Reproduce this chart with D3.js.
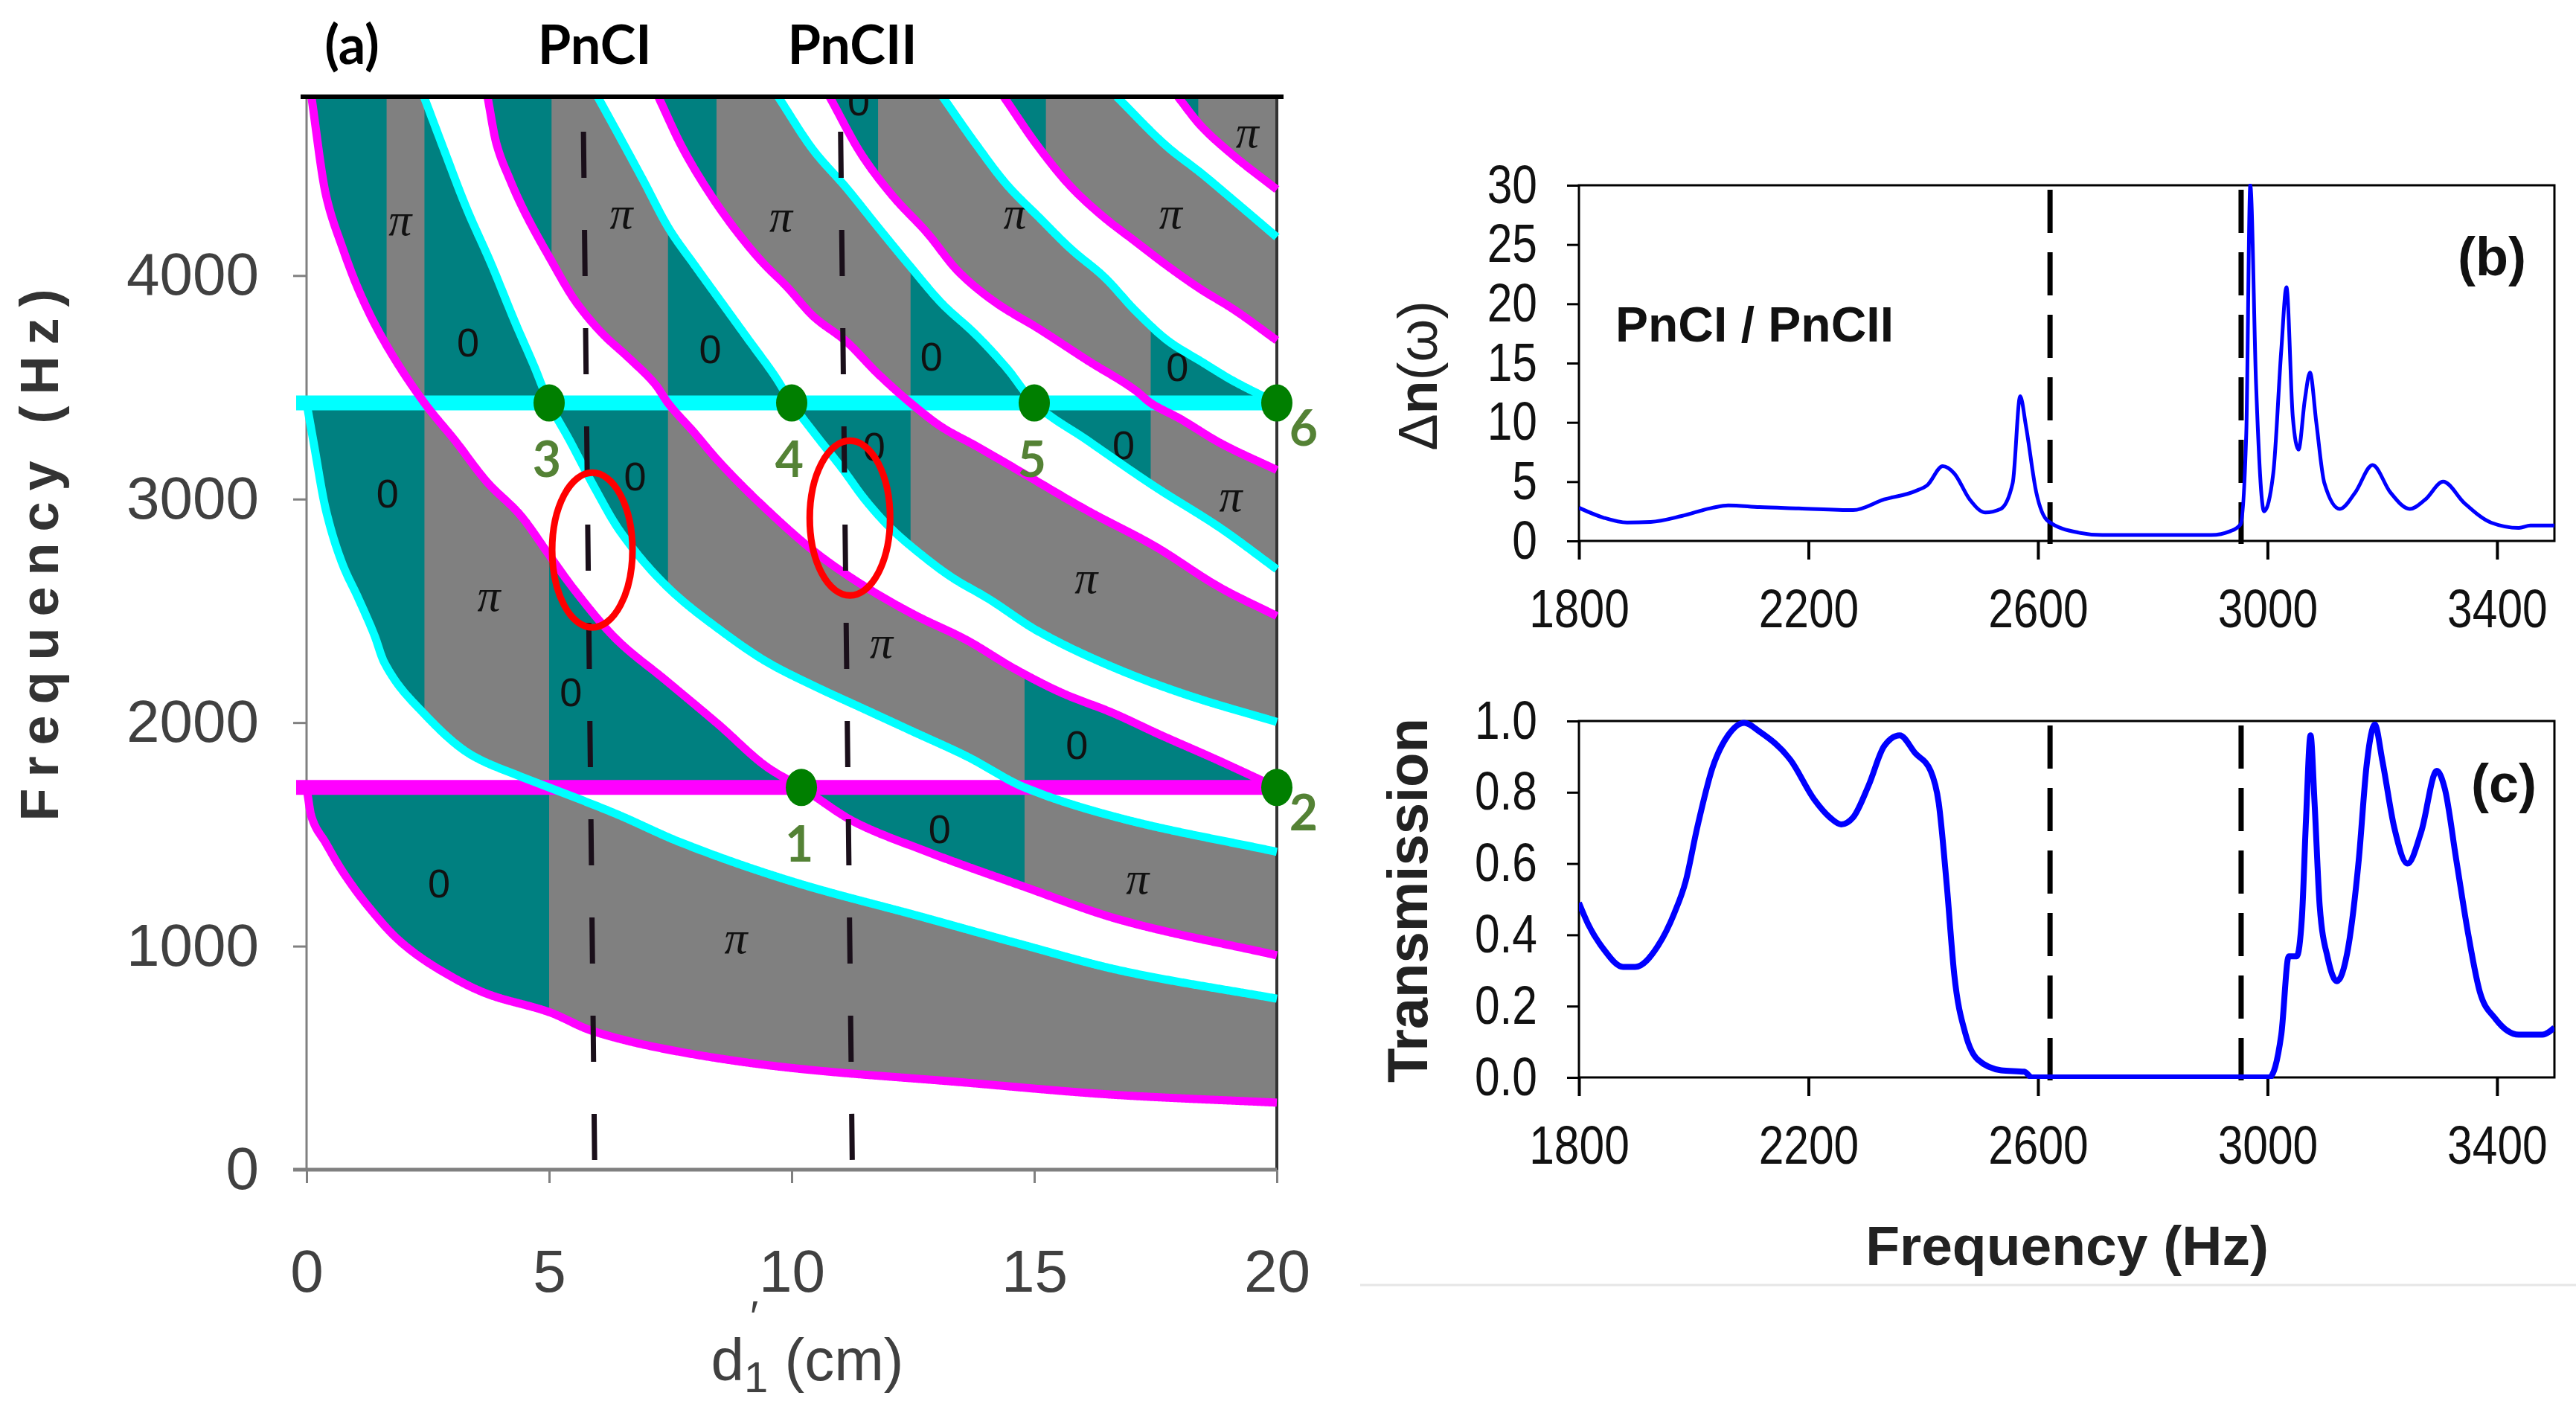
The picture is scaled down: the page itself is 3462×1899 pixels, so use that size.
<!DOCTYPE html>
<html>
<head>
<meta charset="utf-8">
<script src="https://cdn.jsdelivr.net/npm/d3@7"></script>
<style>
  html, body { margin: 0; padding: 0; background: #fff; }
  svg { display: block; }
</style>
</head>
<body>
<svg id="fig"></svg>
<script>
// ---------- data: panel (a), band edges vs d'1 (cm) and frequency (Hz) ----------
const flatLevels = [1710, 3430];           // flat band edges (magenta, cyan)

const magentaCurves = [
  [[0,1710],[0.1,1580],[0.4,1460],[0.74,1335],[1.27,1178],[1.93,1021],[2.73,896],[3.73,786],[5,705],[5.9,620],[7.7,527],[10,455],[13.4,393],[16.8,333],[20,300]],
  [[0.1,4800],[0.4,4360],[0.74,4125],[1.07,3937],[1.53,3733],[2.43,3430],[3.06,3262],[3.73,3074],[4.4,2930],[5,2750],[5.5,2600],[6.4,2370],[7.4,2190],[8.5,1990],[9.5,1800],[10.2,1710],[11.3,1555],[12.7,1430],[14.7,1273],[16.8,1116],[20,959]],
  [[3.73,4800],[3.91,4593],[4.19,4430],[4.46,4300],[5.01,4080],[5.56,3880],[6.1,3740],[6.65,3630],[7.2,3510],[7.45,3430],[7.98,3300],[8.49,3170],[9.5,2950],[10.5,2760],[11.5,2610],[12.55,2480],[13.6,2370],[14.6,2240],[15.6,2130],[16.6,2045],[17.6,1945],[18.7,1840],[20,1710]],
  [[7.25,4800],[7.75,4571],[8.3,4371],[8.84,4205],[9.39,4061],[9.9,3950],[10.45,3817],[11.12,3706],[11.78,3560],[12.45,3430],[13.11,3320],[13.78,3240],[14.73,3121],[16.1,2948],[17.47,2791],[18.84,2603],[20,2477]],
  [[10.78,4800],[11.45,4538],[12.11,4349],[12.78,4194],[13.44,4017],[14.2,3880],[15.1,3761],[16.1,3620],[17.1,3484],[17.4,3430],[18,3360],[18.84,3250],[20,3130]],
  [[14.37,4800],[15.1,4571],[15.77,4394],[16.44,4260],[17.1,4150],[17.77,4039],[18.43,3939],[19.1,3850],[20,3710]],
  [[17.96,4800],[18.43,4671],[19.1,4538],[20,4385]]
];

const cyanCurves = [
  [[0,3430],[0.14,3260],[0.4,2950],[0.74,2710],[1.07,2555],[1.4,2390],[1.6,2270],[2.4,2045],[3.4,1855],[4.4,1760],[5,1710],[6.4,1590],[7.7,1465],[10,1290],[12.7,1130],[14.7,1010],[16.8,890],[20,765]],
  [[2.42,4800],[2.82,4570],[3.3,4300],[3.8,4055],[4.3,3790],[4.7,3590],[5,3430],[5.43,3260],[5.94,3050],[6.45,2860],[7.47,2600],[8.49,2420],[9.5,2270],[10.5,2160],[11.5,2060],[12.5,1960],[13.6,1850],[14.8,1710],[16.8,1571],[20,1422]],
  [[6.0,4800],[6.38,4650],[6.93,4430],[7.47,4210],[8.02,4040],[8.57,3875],[9.12,3710],[9.67,3545],[10,3430],[10.52,3280],[11.03,3140],[11.54,2990],[12.04,2870],[12.68,2750],[13.3,2650],[14.05,2555],[15.07,2410],[16.8,2232],[18.2,2120],[20,2003]],
  [[9.72,4800],[10.45,4560],[11.12,4394],[11.78,4216],[12.45,4039],[13.11,3872],[13.78,3739],[14.44,3584],[15,3430],[16.1,3262],[17.47,3058],[18.84,2870],[20,2686]],
  [[13.11,4800],[13.78,4593],[14.44,4405],[15.1,4260],[15.77,4116],[16.44,3994],[17.1,3839],[17.77,3706],[18.43,3617],[19.1,3529],[20,3430]],
  [[16.7,4800],[17.77,4571],[18.43,4460],[19.1,4338],[20,4172]]
];

// bands with Zak phase 0: [d0, d1, fLow@d0, fLow@d1, fHigh@d0, fHigh@d1]
const zeroPatches = [
  [0, 5, 0, 0, 1710, 1710],
  [10.2, 14.8, 1450, 1140, 1710, 1710],
  [0, 2.43, 1710, 1710, 3430, 3430],
  [5, 10.2, 1710, 1710, 3100, 1950],
  [5, 7.45, 3100, 2400, 3430, 3430],
  [14.8, 20, 1710, 1710, 2330, 1860],
  [10, 12.45, 3150, 2640, 3430, 3430],
  [15, 17.4, 3260, 2935, 3430, 3430],
  [17.4, 20, 3430, 3430, 3940, 3570],
  [0, 1.65, 3430, 3430, 4800, 4800],
  [2.43, 5, 3430, 3430, 4800, 3750],
  [3.73, 5.05, 4400, 3750, 4800, 4800],
  [7.45, 10, 3430, 3430, 4450, 3680],
  [7.25, 8.45, 4550, 4120, 4800, 4800],
  [12.45, 15, 3430, 3430, 4165, 3600],
  [10.78, 11.78, 4640, 4330, 4800, 4800],
  [14.37, 15.24, 4610, 4380, 4800, 4800],
  [17.96, 18.38, 4670, 4575, 4800, 4800]
];

const phaseLabels = [
  [1.93,4251,'π'],[3.33,3702,'0'],[6.49,4282,'π'],[8.32,3670,'0'],[9.78,4267,'π'],[11.38,4780,'0'],
  [12.88,3639,'0'],[14.6,4282,'π'],[17.81,4282,'π'],[17.95,3592,'0'],[19.39,4644,'π'],
  [1.67,3027,'0'],[3.76,2571,'π'],[6.77,3103,'0'],[11.7,3235,'0'],[16.84,3242,'0'],[19.05,3015,'π'],
  [16.07,2650,'π'],[11.85,2360,'π'],[5.45,2137,'0'],[15.88,1901,'0'],[13.05,1524,'0'],
  [2.73,1280,'0'],[8.85,1040,'π'],[17.13,1304,'π']
];

const touchPoints = [
  { label: '1', d: 10.2, f: 1710 }, { label: '2', d: 20, f: 1710 },
  { label: '3', d: 5, f: 3430 },    { label: '4', d: 10, f: 3430 },
  { label: '5', d: 15, f: 3430 },   { label: '6', d: 20, f: 3430 }
];

const pncMarkers = [
  { name: 'PnCI', dTop: 5.70, dBottom: 5.94 },
  { name: 'PnCII', dTop: 11.0, dBottom: 11.25 }
];
const ringMarks = [[5.89, 2772], [11.2, 2915]];

const dispTicksX = [0, 5, 10, 15, 20];
const dispTicksY = [0, 1000, 2000, 3000, 4000];

// ---------- data: panels (b) and (c) ----------
const specTicksX = [1800, 2200, 2600, 3000, 3400];
const dnTicksY = [0, 5, 10, 15, 20, 25, 30];
const trTicksY = [0, 0.2, 0.4, 0.6, 0.8, 1.0];
const gapEdges = [2621, 2954];

const freqB = [1800,1843,1884,1925,1979,2033,2060,2115,2183,2278,2332,2386,2407,2434,2454,2481,2508,2535,2556,2569,2579,2597,2617,2671,2712,2902,2936,2953,2963,2970,2980,2994,3010,3024,3033,3044,3054,3065,3074,3085,3099,3126,3153,3183,3214,3248,3275,3306,3343,3390,3438,3458,3500];
const deltaN = [2.8,1.96,1.55,1.6,2.1,2.8,3.0,2.85,2.75,2.6,3.5,4.2,4.7,6.3,5.7,3.5,2.4,2.7,4.9,12.2,9.7,4.1,1.7,0.7,0.5,0.5,0.84,1.4,9.1,30,13.3,2.5,5.7,16.1,21.4,10.5,7.7,11.9,14.2,10.0,4.9,2.7,4.1,6.4,4.1,2.7,3.5,5.0,3.2,1.54,1.1,1.3,1.3];

const freqC = [1800,1816,1843,1877,1898,1938,1966,1986,2006,2033,2060,2088,2115,2169,2210,2237,2257,2278,2305,2332,2359,2386,2413,2427,2441,2454,2474,2495,2536,2576,2590,3003,3024,3037,3051,3060,3067,3075,3082,3091,3105,3121,3139,3159,3173,3187,3200,3221,3244,3268,3295,3309,3329,3350,3370,3397,3438,3479,3500];
const transmission = [0.49,0.43,0.36,0.31,0.31,0.37,0.46,0.55,0.70,0.87,0.96,0.995,0.97,0.89,0.78,0.73,0.71,0.73,0.82,0.93,0.96,0.91,0.86,0.77,0.54,0.29,0.12,0.05,0.02,0.016,0,0,0.12,0.34,0.34,0.45,0.72,0.96,0.77,0.48,0.335,0.27,0.35,0.61,0.88,0.99,0.89,0.70,0.60,0.69,0.86,0.81,0.61,0.40,0.24,0.165,0.12,0.12,0.14];

// ---------- setup ----------
const W = 3462, H = 1899;
const svg = d3.select('#fig').attr('width', W).attr('height', H);
svg.append('rect').attr('width', W).attr('height', H).attr('fill', '#fff');
const defs = svg.append('defs');

const SANS = "'Liberation Sans', Arial, sans-serif";
const CAL = "Lato, 'Open Sans', sans-serif";

// squeeze text horizontally (stand-in for a narrow face)
function narrow(sel, k) {
  sel.each(function () {
    const L = this.getComputedTextLength();
    d3.select(this).attr('textLength', L * k).attr('lengthAdjust', 'spacingAndGlyphs');
  });
}

// monotone cubic interpolation (Fritsch-Carlson), used to sample the band edges
function monotone(pts) {
  const n = pts.length, xs = pts.map(p => p[0]), ys = pts.map(p => p[1]);
  const h = [], m = [], t = new Array(n);
  for (let i = 0; i < n - 1; i++) { h[i] = xs[i + 1] - xs[i]; m[i] = (ys[i + 1] - ys[i]) / h[i]; }
  t[0] = m[0]; t[n - 1] = m[n - 2];
  for (let i = 1; i < n - 1; i++) {
    if (m[i - 1] * m[i] <= 0) t[i] = 0;
    else {
      const w1 = 2 * h[i] + h[i - 1], w2 = h[i] + 2 * h[i - 1];
      t[i] = (w1 + w2) / (w1 / m[i - 1] + w2 / m[i]);
    }
  }
  return x => {
    let i = 0;
    while (i < n - 2 && x > xs[i + 1]) i++;
    const s = (x - xs[i]) / h[i], s2 = s * s, s3 = s2 * s;
    return (2 * s3 - 3 * s2 + 1) * ys[i] + (s3 - 2 * s2 + s) * h[i] * t[i] +
           (-2 * s3 + 3 * s2) * ys[i + 1] + (s3 - s2) * h[i] * t[i + 1];
  };
}
function sample(pts) {
  const fn = monotone(pts), d0 = pts[0][0], d1 = pts[pts.length - 1][0];
  const n = Math.ceil((d1 - d0) / 0.02), out = [];
  for (let i = 0; i <= n; i++) { const d = d0 + (d1 - d0) * i / n; out.push([d, fn(d)]); }
  return out;
}

// ---------- panel (a) ----------
const xA = d3.scaleLinear().domain([0, 20]).range([412, 1716]);
const yA = d3.scaleLinear().domain([0, 4800]).range([1572, 130]);
const ABOVE = 5600;
const lineA = d3.line().x(p => xA(p[0])).y(p => yA(p[1]));

const magS = magentaCurves.map(sample), cyaS = cyanCurves.map(sample);
const aboveOf = s => lineA(s.concat([[s[s.length - 1][0], ABOVE], [s[0][0], ABOVE]])) + 'Z';
const flatAbove = f => lineA([[0, f], [20, f], [20, ABOVE], [0, ABOVE]]) + 'Z';
// parity of edges below a point decides filled (odd) or gap (even)
const bandPath = magS.concat(cyaS).map(aboveOf).join('') + flatLevels.map(flatAbove).join('');

defs.append('clipPath').attr('id', 'clipA').append('rect')
  .attr('x', xA(0)).attr('y', yA(4800)).attr('width', xA(20) - xA(0)).attr('height', yA(0) - yA(4800));
defs.append('clipPath').attr('id', 'clipLinesA').append('rect')
  .attr('x', xA(0) - 20).attr('y', yA(4800)).attr('width', xA(20) - xA(0) + 26).attr('height', yA(0) - yA(4800));
defs.append('clipPath').attr('id', 'clipBands').append('path')
  .attr('d', bandPath).attr('clip-rule', 'evenodd');

const gA = svg.append('g').attr('clip-path', 'url(#clipA)');
gA.append('path').attr('d', bandPath).attr('fill', '#808080').attr('fill-rule', 'evenodd');
gA.append('g').attr('clip-path', 'url(#clipBands)')
  .selectAll('path').data(zeroPatches).join('path')
  .attr('d', p => lineA([[p[0], p[2]], [p[1], p[3]], [p[1], p[5]], [p[0], p[4]]]) + 'Z')
  .attr('fill', '#008080');

gA.selectAll('text.phase').data(phaseLabels).join('text')
  .attr('class', 'phase')
  .attr('x', p => xA(p[0])).attr('y', p => yA(p[1]))
  .attr('text-anchor', 'middle').attr('dominant-baseline', 'central')
  .attr('font-family', p => p[2] === 'π' ? "'Liberation Serif', 'DejaVu Serif', serif" : SANS)
  .attr('font-style', p => p[2] === 'π' ? 'italic' : 'normal')
  .attr('font-size', p => p[2] === 'π' ? 62 : 54)
  .attr('fill', '#111')
  .text(p => p[2]);

// axes frame of (a)
svg.append('line').attr('x1', xA(20)).attr('x2', xA(20)).attr('y1', yA(4800)).attr('y2', yA(0))
  .attr('stroke', '#333').attr('stroke-width', 4);
svg.append('line').attr('x1', xA(0)).attr('x2', xA(0)).attr('y1', yA(4800)).attr('y2', yA(0))
  .attr('stroke', '#808080').attr('stroke-width', 3);

const axYA = svg.append('g').attr('transform', `translate(${xA(0)},0)`)
  .call(d3.axisLeft(yA).tickValues(dispTicksY).tickSize(18).tickPadding(46).tickSizeOuter(0).tickFormat(d3.format('d')));
axYA.select('.domain').remove();
axYA.selectAll('line').attr('stroke', '#808080').attr('stroke-width', 3);
axYA.selectAll('text').attr('font-family', SANS).attr('font-size', 80).attr('fill', '#404040');

const axXA = svg.append('g').attr('transform', `translate(0,${yA(0)})`)
  .call(d3.axisBottom(xA).tickValues(dispTicksX).tickSize(18).tickPadding(89).tickSizeOuter(0));
axXA.select('.domain').remove();
axXA.selectAll('line').attr('stroke', '#808080').attr('stroke-width', 3);
axXA.selectAll('text').attr('font-family', SANS).attr('font-size', 80).attr('fill', '#404040');
svg.append('line').attr('x1', xA(0) - 18).attr('x2', xA(20)).attr('y1', yA(0)).attr('y2', yA(0))
  .attr('stroke', '#808080').attr('stroke-width', 5);

// flat bands, then dispersive band edges
const gL = svg.append('g').attr('clip-path', 'url(#clipLinesA)');
gL.selectAll('line.flat').data(flatLevels).join('line')
  .attr('class', 'flat')
  .attr('x1', xA(0) - 14).attr('x2', xA(20)).attr('y1', f => yA(f)).attr('y2', f => yA(f))
  .attr('stroke', (f, i) => i === 0 ? '#ff00ff' : '#00ffff').attr('stroke-width', 20);
gL.selectAll('path.mag').data(magS).join('path').attr('class', 'mag')
  .attr('d', lineA).attr('fill', 'none').attr('stroke', '#ff00ff').attr('stroke-width', 11).attr('stroke-linejoin', 'round');
gL.selectAll('path.cya').data(cyaS).join('path').attr('class', 'cya')
  .attr('d', lineA).attr('fill', 'none').attr('stroke', '#00ffff').attr('stroke-width', 11).attr('stroke-linejoin', 'round');

// PnC dashed markers
svg.selectAll('line.pnc').data(pncMarkers).join('line').attr('class', 'pnc')
  .attr('x1', m => xA(m.dTop)).attr('y1', yA(4800)).attr('x2', m => xA(m.dBottom)).attr('y2', yA(0))
  .attr('stroke', '#1a0f1a').attr('stroke-width', 7)
  .attr('stroke-dasharray', '62 70').attr('stroke-dashoffset', 85);

// red rings
svg.selectAll('ellipse.ring').data(ringMarks).join('ellipse').attr('class', 'ring')
  .attr('cx', r => xA(r[0])).attr('cy', r => yA(r[1]))
  .attr('rx', 54).attr('ry', 104)
  .attr('fill', 'none').attr('stroke', '#ff0000').attr('stroke-width', 9);

// touching points
svg.selectAll('ellipse.pt').data(touchPoints).join('ellipse').attr('class', 'pt')
  .attr('cx', p => xA(p.d)).attr('cy', p => yA(p.f)).attr('rx', 21).attr('ry', 25).attr('fill', '#007f00');
svg.selectAll('text.ptl').data(touchPoints).join('text').attr('class', 'ptl')
  .attr('x', p => xA(p.d) + (p.d === 20 ? 36 : -3))
  .attr('y', p => yA(p.f) + (p.d === 20 ? 32 : 74))
  .attr('text-anchor', 'middle').attr('dominant-baseline', 'central')
  .attr('font-family', CAL).attr('font-weight', 700).attr('font-size', 66).attr('fill', '#548235')
  .text(p => p.label);

// top border
svg.append('line').attr('x1', xA(0) - 8).attr('x2', xA(20) + 9).attr('y1', yA(4800)).attr('y2', yA(4800))
  .attr('stroke', '#000').attr('stroke-width', 6);

// titles of (a)
svg.append('text').attr('x', 473).attr('y', 86).attr('text-anchor', 'middle')
  .attr('font-family', CAL).attr('font-weight', 700).attr('font-size', 72).attr('fill', '#000').text('(a)');
svg.selectAll('text.pncName').data(pncMarkers).join('text').attr('class', 'pncName')
  .attr('x', m => xA(m.dBottom)).attr('y', 86).attr('text-anchor', 'middle')
  .attr('font-family', CAL).attr('font-weight', 700).attr('font-size', 72).attr('fill', '#000')
  .text(m => m.name);

svg.append('text').attr('transform', 'translate(78,746) rotate(-90)').attr('text-anchor', 'middle')
  .attr('font-family', SANS).attr('font-weight', 700).attr('font-size', 72).attr('fill', '#333')
  .attr('textLength', 715).attr('lengthAdjust', 'spacing').text('Frequency (Hz)');

const xt = svg.append('text').attr('x', 1085).attr('y', 1855).attr('text-anchor', 'middle')
  .attr('font-family', SANS).attr('font-size', 80).attr('fill', '#404040');
const tD = xt.append('tspan').text('d');
xt.append('tspan').attr('dy', 16).attr('font-size', 58).text('1');
xt.append('tspan').attr('dy', -16).text(' (cm)');
const xtBox = xt.node().getBBox();
const dW = tD.node().getComputedTextLength();
svg.append('text').attr('x', xtBox.x + dW + 8).attr('y', 1790)
  .attr('font-family', SANS).attr('font-size', 60).attr('fill', '#404040').text('\u2032');

// ---------- panels (b) and (c) ----------
const xS = d3.scaleLinear().domain([1800, 3500]).range([2122, 3433]);
const yB = d3.scaleLinear().domain([0, 30]).range([727, 249]);
const yC = d3.scaleLinear().domain([0, 1]).range([1448, 969]);

function spectrumPanel(id, y, ticksY, fmt, freq, vals, lw) {
  const [y0, y1] = y.range();
  defs.append('clipPath').attr('id', id).append('rect')
    .attr('x', xS.range()[0]).attr('y', y1 - 2).attr('width', xS.range()[1] - xS.range()[0]).attr('height', y0 - y1 + 4);

  svg.append('rect').attr('x', xS.range()[0]).attr('y', y1)
    .attr('width', xS.range()[1] - xS.range()[0]).attr('height', y0 - y1)
    .attr('fill', 'none').attr('stroke', '#000').attr('stroke-width', 3);

  const ay = svg.append('g').attr('transform', `translate(${xS.range()[0]},0)`)
    .call(d3.axisLeft(y).tickValues(ticksY).tickSize(16).tickPadding(40).tickSizeOuter(0).tickFormat(fmt));
  ay.select('.domain').remove();
  ay.selectAll('line').attr('stroke', '#000').attr('stroke-width', 3);
  ay.selectAll('text').attr('font-family', SANS).attr('font-size', 72).attr('fill', '#111').call(narrow, 0.84);

  const ax = svg.append('g').attr('transform', `translate(0,${y0})`)
    .call(d3.axisBottom(xS).tickValues(specTicksX).tickSize(25).tickPadding(40).tickSizeOuter(0).tickFormat(d3.format('d')));
  ax.select('.domain').remove();
  ax.selectAll('line').attr('stroke', '#000').attr('stroke-width', 4);
  ax.selectAll('text').attr('font-family', SANS).attr('font-size', 72).attr('fill', '#111').call(narrow, 0.84);

  svg.selectAll(null).data(gapEdges).join('line')
    .attr('x1', f => xS(f)).attr('x2', f => xS(f)).attr('y1', y1 + 6).attr('y2', y0 + 4)
    .attr('stroke', '#000').attr('stroke-width', 7).attr('stroke-dasharray', '58 26');

  const ln = d3.line().x((d, i) => xS(freq[i])).y(d => y(d)).curve(d3.curveMonotoneX);
  svg.append('path').attr('clip-path', `url(#${id})`).attr('d', ln(vals))
    .attr('fill', 'none').attr('stroke', '#0000ff').attr('stroke-width', lw).attr('stroke-linejoin', 'round');
}
spectrumPanel('clipB', yB, dnTicksY, d3.format('d'), freqB, deltaN, 5);
spectrumPanel('clipC', yC, trTicksY, d3.format('.1f'), freqC, transmission, 8);

// texts of (b), (c)
const yl = svg.append('text').attr('transform', 'translate(1931,505) rotate(-90)').attr('text-anchor', 'middle')
  .attr('font-family', SANS).attr('font-size', 74).attr('fill', '#222');
yl.append('tspan').text('\u0394');
yl.append('tspan').attr('font-weight', 700).text('n');
yl.append('tspan').text('(\u03c9)');

svg.append('text').attr('x', 2171).attr('y', 459)
  .attr('font-family', SANS).attr('font-weight', 700).attr('font-size', 66).attr('fill', '#111').text('PnCI / PnCII');
svg.append('text').attr('x', 3349).attr('y', 370).attr('text-anchor', 'middle')
  .attr('font-family', SANS).attr('font-weight', 700).attr('font-size', 72).attr('fill', '#111').text('(b)');
svg.append('text').attr('x', 3365).attr('y', 1078).attr('text-anchor', 'middle')
  .attr('font-family', SANS).attr('font-weight', 700).attr('font-size', 72).attr('fill', '#111').text('(c)');

svg.append('text').attr('transform', 'translate(1918,1210) rotate(-90)').attr('text-anchor', 'middle')
  .attr('font-family', SANS).attr('font-weight', 700).attr('font-size', 76).attr('fill', '#222').text('Transmission');
svg.append('text').attr('x', 2778).attr('y', 1700).attr('text-anchor', 'middle')
  .attr('font-family', SANS).attr('font-weight', 700).attr('font-size', 75).attr('fill', '#222').text('Frequency (Hz)');

svg.append('line').attr('x1', 1828).attr('x2', W).attr('y1', 1727).attr('y2', 1727)
  .attr('stroke', '#e6e6e6').attr('stroke-width', 3);
</script>
</body>
</html>
